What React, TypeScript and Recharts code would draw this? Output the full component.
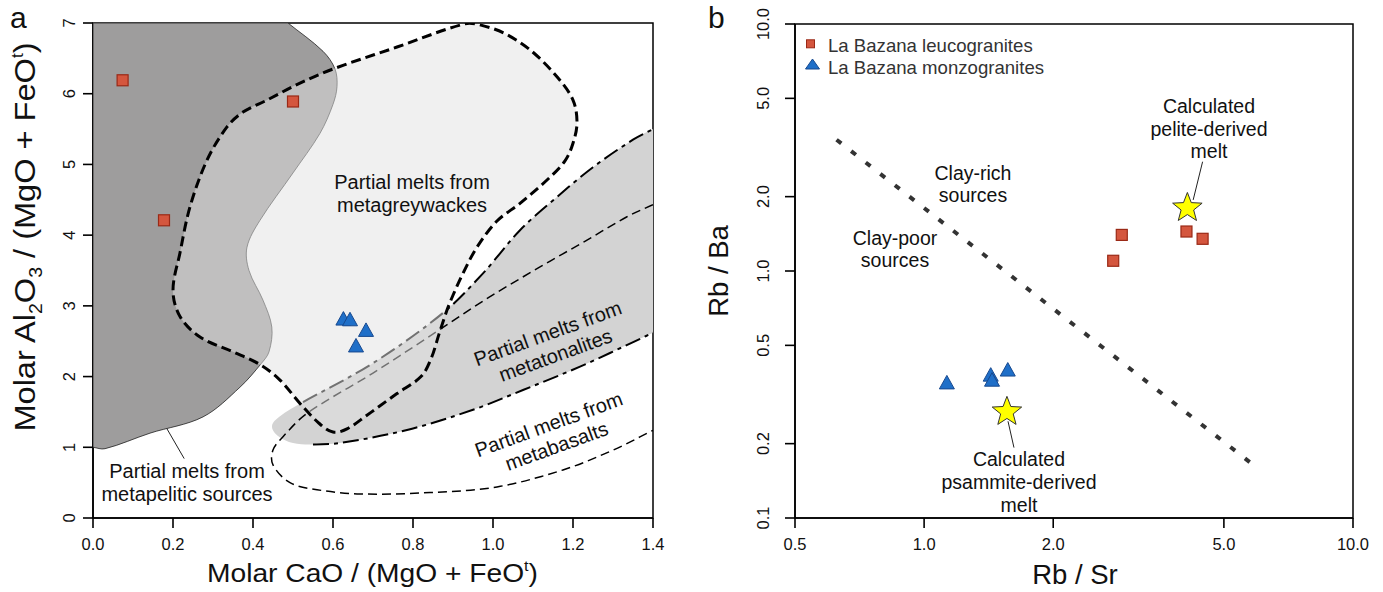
import React from "react";
import {
  ScatterChart,
  Scatter,
  XAxis,
  YAxis,
  ReferenceLine,
  ReferenceArea,
  Legend,
} from "recharts";

const FONT = '"Liberation Sans", Arial, Helvetica, sans-serif';

// ---------- panel a: Al2O3/(MgO+FeOt) vs CaO/(MgO+FeOt) ----------
const caoTicks = [0, 0.2, 0.4, 0.6, 0.8, 1.0, 1.2, 1.4];
const alTicks = [0, 1, 2, 3, 4, 5, 6, 7];

const leucograniteA = [[0.074, 6.19], [0.1775, 4.21], [0.5, 5.89]];
const monzograniteA = [[0.626, 2.82], [0.6425, 2.81], [0.6825, 2.66], [0.6575, 2.44]];

// repeated vertices mark sharp corners of a field outline
const metapeliticField = [
  [0, 7], [0, 7], [0.4875, 7], [0.4875, 7], [0.575, 6.6], [0.605, 6.35], [0.61, 6.1],
  [0.6, 5.85], [0.5675, 5.44], [0.5, 4.88], [0.4175, 4.21], [0.385, 3.83], [0.39, 3.5],
  [0.425, 3.08], [0.447, 2.7], [0.44, 2.35], [0.42, 2.18], [0.3675, 1.85],
  [0.275, 1.43], [0.1425, 1.2], [0.03, 0.98], [0, 1], [0, 1],
];

const metagreywackeField = [
  [0.93, 6.99], [0.97, 6.97], [1.03, 6.85], [1.095, 6.61], [1.16, 6.24], [1.2, 5.91],
  [1.21, 5.59], [1.2, 5.3], [1.18, 5.05], [1.135, 4.78], [1.0675, 4.45], [1.01, 4.2],
  [0.96, 3.83], [0.925, 3.46], [0.9, 3.15], [0.885, 2.94], [0.865, 2.6], [0.845, 2.25],
  [0.82, 2.0], [0.76, 1.76], [0.684, 1.45], [0.635, 1.26], [0.6, 1.215], [0.565, 1.34],
  [0.5175, 1.62], [0.4675, 1.95], [0.4175, 2.17], [0.35, 2.35], [0.2675, 2.56],
  [0.2175, 2.85], [0.2, 3.22], [0.2175, 3.75], [0.2425, 4.4], [0.285, 5.06],
  [0.335, 5.53], [0.375, 5.74], [0.435, 5.91], [0.5175, 6.15], [0.605, 6.36], [0.76, 6.66],
];

const tonaliteTip = [[0.5, 1.06], [0.4625, 1.16], [0.4475, 1.3], [0.465, 1.43]];
const tonaliteUpper = [
  [0.525, 1.64], [0.7, 2.19], [0.875, 2.9], [0.975, 3.46], [1.0675, 4.07],
  [1.16, 4.54], [1.25, 4.96], [1.35, 5.35], [1.4, 5.5],
];
const tonaliteLower = [
  [0.55, 1.04], [0.6175, 1.06], [0.785, 1.245], [0.95, 1.53], [1.075, 1.81],
  [1.2175, 2.14], [1.325, 2.42], [1.4, 2.62],
];

const metabasaltCurve = [
  [1.4, 4.43], [1.335, 4.26], [1.235, 3.93], [1.1175, 3.55], [0.9925, 3.13],
  [0.8925, 2.76], [0.7, 2.05], [0.535, 1.48], [0.475, 1.15], [0.45, 0.96],
  [0.45, 0.75], [0.4925, 0.5], [0.56, 0.4], [0.6675, 0.34], [0.8425, 0.36],
  [1.01, 0.44], [1.175, 0.68], [1.3, 0.96], [1.4, 1.24],
];

const metapeliticPointer = [[0.091, 2.18], [0.228, 0.84]];

// ---------- panel b: Rb/Ba vs Rb/Sr ----------
const rbsrTicks = [0.5, 1, 2, 5, 10];
const rbbaTicks = [0.1, 0.2, 0.5, 1, 2, 5, 10];

const leucograniteB = [[2.89, 1.4], [2.76, 1.1], [4.09, 1.445], [4.46, 1.35]];
const monzograniteB = [[1.13, 0.354], [1.43, 0.3805], [1.44, 0.363], [1.567, 0.399]];
const peliteMelt = [[4.11, 1.8]];
const psammiteMelt = [[1.56, 0.269]];
const clayDivide = [[0.625, 3.4], [6.05, 0.157]];
const pelitePointer = [[4.46, 2.77], [4.24, 1.94]];
const psammitePointer = [[1.569, 0.2464], [1.62, 0.1928]];

const pt = (arr: number[][]) => arr.map(([x, y]) => ({ x, y }));

type P = { x: number; y: number };

// smooth curve through the vertices; control arms are a third of each segment
function smoothPath(p: P[], closed: boolean): string {
  const n = p.length;
  if (n < 2) return "";
  const at = (i: number) => (closed ? p[(i + n) % n] : p[Math.max(0, Math.min(n - 1, i))]);
  const same = (a: P, b: P) => Math.abs(a.x - b.x) < 1e-6 && Math.abs(a.y - b.y) < 1e-6;
  const dir = (i: number) => {
    const cur = at(i);
    let a = at(i - 1);
    let b = at(i + 1);
    if (same(a, cur)) a = cur;
    if (same(b, cur)) b = cur;
    const dx = b.x - a.x, dy = b.y - a.y;
    const L = Math.hypot(dx, dy) || 1;
    return { x: dx / L, y: dy / L };
  };
  let d = `M${p[0].x},${p[0].y}`;
  const count = closed ? n : n - 1;
  for (let i = 0; i < count; i++) {
    const p1 = at(i), p2 = at(i + 1);
    if (same(p1, p2)) continue;
    const len = Math.hypot(p2.x - p1.x, p2.y - p1.y) / 3;
    const d1 = dir(i), d2 = dir(i + 1);
    d += ` C${p1.x + d1.x * len},${p1.y + d1.y * len} ${p2.x - d2.x * len},${p2.y - d2.y * len} ${p2.x},${p2.y}`;
  }
  return closed ? d + " Z" : d;
}

const PLOT_A = { x: 93, y: 23, w: 560, h: 495 };

type CurveStyle = {
  id: string;
  closed?: boolean;
  fill?: string;
  fillOpacity?: number;
  stroke?: string;
  strokeWidth?: number;
  dash?: string;
};

const curve = (s: CurveStyle) => (props: any) => (
  <g>
    <defs>
      <clipPath id={`clip-${s.id}`}>
        <rect x={PLOT_A.x} y={PLOT_A.y} width={PLOT_A.w} height={PLOT_A.h} />
      </clipPath>
    </defs>
    <path
      clipPath={`url(#clip-${s.id})`}
      d={smoothPath(props.points || [], !!s.closed)}
      fill={s.fill || "none"}
      fillOpacity={s.fillOpacity ?? 1}
      stroke={s.stroke || "none"}
      strokeWidth={s.strokeWidth || 1}
      strokeDasharray={s.dash}
    />
  </g>
);

const noDot = () => <g />;

const Square = (props: any) => (
  <rect x={props.cx - 5.5} y={props.cy - 5.5} width={11} height={11} fill="#d4563e" stroke="#9a2916" strokeWidth={1.2} />
);

const Triangle = (props: any) => {
  const { cx, cy } = props;
  return (
    <polygon
      points={`${cx},${cy - 7} ${cx + 7.5},${cy + 6.5} ${cx - 7.5},${cy + 6.5}`}
      fill="#1f6fc8"
      stroke="#17498f"
      strokeWidth={1}
    />
  );
};

const Star = (props: any) => {
  const { cx, cy } = props;
  const pts: string[] = [];
  for (let i = 0; i < 10; i++) {
    const r = i % 2 === 0 ? 15.5 : 6.6;
    const a = -Math.PI / 2 + (i * Math.PI) / 5;
    pts.push(`${cx + r * Math.cos(a)},${cy + r * Math.sin(a)}`);
  }
  return <polygon points={pts.join(" ")} fill="#ffff00" stroke="#333" strokeWidth={1} />;
};

const xTick = (fmt: (v: number) => string) => (props: any) => (
  <text x={props.x} y={props.y} dy="0.71em" textAnchor="middle" fontSize={16.5} fontFamily={FONT} fill="#111">
    {fmt(props.payload.value)}
  </text>
);

const yTick = (fmt: (v: number) => string) => (props: any) => (
  <text
    x={props.x}
    y={props.y}
    transform={`rotate(-90 ${props.x} ${props.y})`}
    textAnchor="middle"
    fontSize={16.5}
    fontFamily={FONT}
    fill="#111"
  >
    {fmt(props.payload.value)}
  </text>
);

const legendContent = (props: any) => {
  const items = (props.payload || []).filter((e: any) => e.type !== "none");
  return (
    <svg width={270} height={54}>
      {items.map((e: any, i: number) => {
        const off = i * 22.6;
        return (
          <g key={e.value}>
            {e.type === "triangle" ? (
              <polygon
                points={`12.5,${off + 8.4} 19.5,${off + 18.4} 5.5,${off + 18.4}`}
                fill="#1f6fc8"
                stroke="#17498f"
                strokeWidth={1}
              />
            ) : (
              <rect x={6.5} y={off + 11.8} width={8} height={8} fill="#d4563e" stroke="#9a2916" strokeWidth={1} />
            )}
            <text x={28} y={off + 23.7} fontSize={18.6} fontFamily={FONT} fill="#333">
              {e.value}
            </text>
          </g>
        );
      })}
    </svg>
  );
};

const fix1 = (v: number) => v.toFixed(1);
const int = (v: number) => String(v);

export default function App() {
  const bandFill = [
    ...tonaliteTip,
    ...tonaliteUpper,
    tonaliteUpper[tonaliteUpper.length - 1],
    tonaliteLower[tonaliteLower.length - 1],
    ...[...tonaliteLower].reverse(),
  ];
  return (
    <div style={{ position: "absolute", left: 0, top: 0, width: 1383, height: 592, background: "#fff" }}>
      <div style={{ position: "absolute", left: 0, top: 0 }}>
        <ScatterChart width={700} height={592} margin={{ top: 23, right: 47, bottom: 0, left: 0 }}>
          <XAxis
            type="number"
            dataKey="x"
            domain={[0, 1.4]}
            ticks={caoTicks}
            allowDataOverflow
            height={74}
            tickSize={10}
            tickMargin={10}
            axisLine={{ stroke: "#000", strokeWidth: 1.6 }}
            tickLine={{ stroke: "#000", strokeWidth: 1.6 }}
            tick={xTick(fix1)}
          />
          <YAxis
            type="number"
            dataKey="y"
            domain={[0, 7]}
            ticks={alTicks}
            allowDataOverflow
            width={93}
            tickSize={10}
            tickMargin={8}
            axisLine={{ stroke: "#000", strokeWidth: 1.6 }}
            tickLine={{ stroke: "#000", strokeWidth: 1.6 }}
            tick={yTick(int)}
          />
          <Scatter
            data={pt(metapeliticField)}
            line={curve({ id: "pel", closed: true, fill: "#9e9d9d", stroke: "#222", strokeWidth: 0.8 })}
            shape={noDot}
            legendType="none"
            isAnimationActive={false}
          />
          <Scatter
            data={pt(bandFill)}
            line={curve({ id: "band", closed: true, fill: "#d3d3d3" })}
            shape={noDot}
            legendType="none"
            isAnimationActive={false}
          />
          <Scatter
            data={pt(tonaliteUpper)}
            line={curve({ id: "tonU", stroke: "#000", strokeWidth: 2, dash: "16 5 4 5" })}
            shape={noDot}
            legendType="none"
            isAnimationActive={false}
          />
          <Scatter
            data={pt(tonaliteLower)}
            line={curve({ id: "tonL", stroke: "#000", strokeWidth: 2, dash: "16 5 4 5" })}
            shape={noDot}
            legendType="none"
            isAnimationActive={false}
          />
          <Scatter
            data={pt(metabasaltCurve)}
            line={curve({ id: "bas", stroke: "#000", strokeWidth: 1.5, dash: "9 5" })}
            shape={noDot}
            legendType="none"
            isAnimationActive={false}
          />
          <Scatter
            data={pt(metagreywackeField)}
            line={curve({ id: "gw", closed: true, fill: "#e1e1e1", fillOpacity: 0.505, stroke: "#000", strokeWidth: 3, dash: "10 5" })}
            shape={noDot}
            legendType="none"
            isAnimationActive={false}
          />
          <ReferenceLine segment={pt(metapeliticPointer)} stroke="#222" strokeWidth={1} ifOverflow="visible" />
          <Scatter data={pt(leucograniteA)} shape={Square} legendType="none" isAnimationActive={false} />
          <Scatter data={pt(monzograniteA)} shape={Triangle} legendType="none" isAnimationActive={false} />
          <ReferenceArea x1={0} x2={1.4} y1={0} y2={7} fill="none" stroke="#000" strokeWidth={1.5} ifOverflow="visible" />
        </ScatterChart>
      </div>

      <div style={{ position: "absolute", left: 700, top: 0 }}>
        <ScatterChart width={683} height={592} margin={{ top: 24, right: 30, bottom: 0, left: 0 }}>
          <XAxis
            type="number"
            dataKey="x"
            scale="log"
            domain={[0.5, 10]}
            ticks={rbsrTicks}
            allowDataOverflow
            height={74}
            tickSize={10}
            tickMargin={10}
            axisLine={{ stroke: "#000", strokeWidth: 1.6 }}
            tickLine={{ stroke: "#000", strokeWidth: 1.6 }}
            tick={xTick(fix1)}
          />
          <YAxis
            type="number"
            dataKey="y"
            scale="log"
            domain={[0.1, 10]}
            ticks={rbbaTicks}
            allowDataOverflow
            width={95}
            tickSize={10}
            tickMargin={16}
            axisLine={{ stroke: "#000", strokeWidth: 1.6 }}
            tickLine={{ stroke: "#000", strokeWidth: 1.6 }}
            tick={yTick(fix1)}
          />
          <ReferenceLine segment={pt(clayDivide)} stroke="#333" strokeWidth={4} strokeDasharray="6 12.5" />
          <ReferenceLine segment={pt(pelitePointer)} stroke="#222" strokeWidth={1} />
          <ReferenceLine segment={pt(psammitePointer)} stroke="#222" strokeWidth={1} />
          <Scatter name="La Bazana leucogranites" data={pt(leucograniteB)} shape={Square} legendType="square" fill="#d4563e" isAnimationActive={false} />
          <Scatter name="La Bazana monzogranites" data={pt(monzograniteB)} shape={Triangle} legendType="triangle" fill="#1f6fc8" isAnimationActive={false} />
          <Scatter data={pt(peliteMelt)} shape={Star} legendType="none" isAnimationActive={false} />
          <Scatter data={pt(psammiteMelt)} shape={Star} legendType="none" isAnimationActive={false} />
          <ReferenceArea x1={0.5} x2={10} y1={0.1} y2={10} fill="none" stroke="#000" strokeWidth={1.5} ifOverflow="visible" />
          <Legend
            layout="vertical"
            align="center"
            verticalAlign="middle"
            content={legendContent}
            wrapperStyle={{ left: 100, top: 28, width: 270 }}
          />
        </ScatterChart>
      </div>

      <svg
        width={1383}
        height={592}
        style={{ position: "absolute", left: 0, top: 0, pointerEvents: "none" }}
        fontFamily={FONT}
        fill="#111"
      >
        <text x={10} y={28} fontSize={30}>a</text>
        <text x={708} y={28} fontSize={30}>b</text>

        <text x={372.5} y={582} fontSize={26} textAnchor="middle" textLength={331} lengthAdjust="spacingAndGlyphs">
          Molar CaO / (MgO + FeO<tspan fontSize={15} dy={-11}>t</tspan>
          <tspan dy={11}>)</tspan>
        </text>
        <g transform="translate(35 237) rotate(-90) scale(1.085 1)">
          <text x={0} y={0} fontSize={30} textAnchor="middle">
            Molar Al<tspan fontSize={18} dy={7}>2</tspan>
            <tspan dy={-7}>O</tspan>
            <tspan fontSize={18} dy={7}>3</tspan>
            <tspan dy={-7}> / (MgO + FeO</tspan>
            <tspan fontSize={16} dy={-12}>t</tspan>
            <tspan dy={12}>)</tspan>
          </text>
        </g>

        <text x={1075} y={584} fontSize={27.5} textAnchor="middle">Rb / Sr</text>
        <g transform="translate(728 271) rotate(-90)">
          <text x={0} y={0} fontSize={27.5} textAnchor="middle">Rb / Ba</text>
        </g>

        <g fontSize={20} textAnchor="middle">
          <text x={412} y={189}>Partial melts from</text>
          <text x={412} y={212}>metagreywackes</text>
          <text x={187} y={478}>Partial melts from</text>
          <text x={187} y={501}>metapelitic sources</text>
          <g transform="translate(550 340) rotate(-20)">
            <text x={0} y={0}>Partial melts from</text>
            <text x={0} y={23}>metatonalites</text>
          </g>
          <g transform="translate(551 431) rotate(-20)">
            <text x={0} y={0}>Partial melts from</text>
            <text x={0} y={23}>metabasalts</text>
          </g>
        </g>

        <g fontSize={19.5} textAnchor="middle">
          <text x={973} y={180}>Clay-rich</text>
          <text x={973} y={202}>sources</text>
          <text x={895} y={245}>Clay-poor</text>
          <text x={895} y={267}>sources</text>
          <text x={1209} y={113}>Calculated</text>
          <text x={1209} y={135.5}>pelite-derived</text>
          <text x={1209} y={158}>melt</text>
          <text x={1019} y={466}>Calculated</text>
          <text x={1019} y={489}>psammite-derived</text>
          <text x={1019} y={512}>melt</text>
        </g>
      </svg>
    </div>
  );
}
